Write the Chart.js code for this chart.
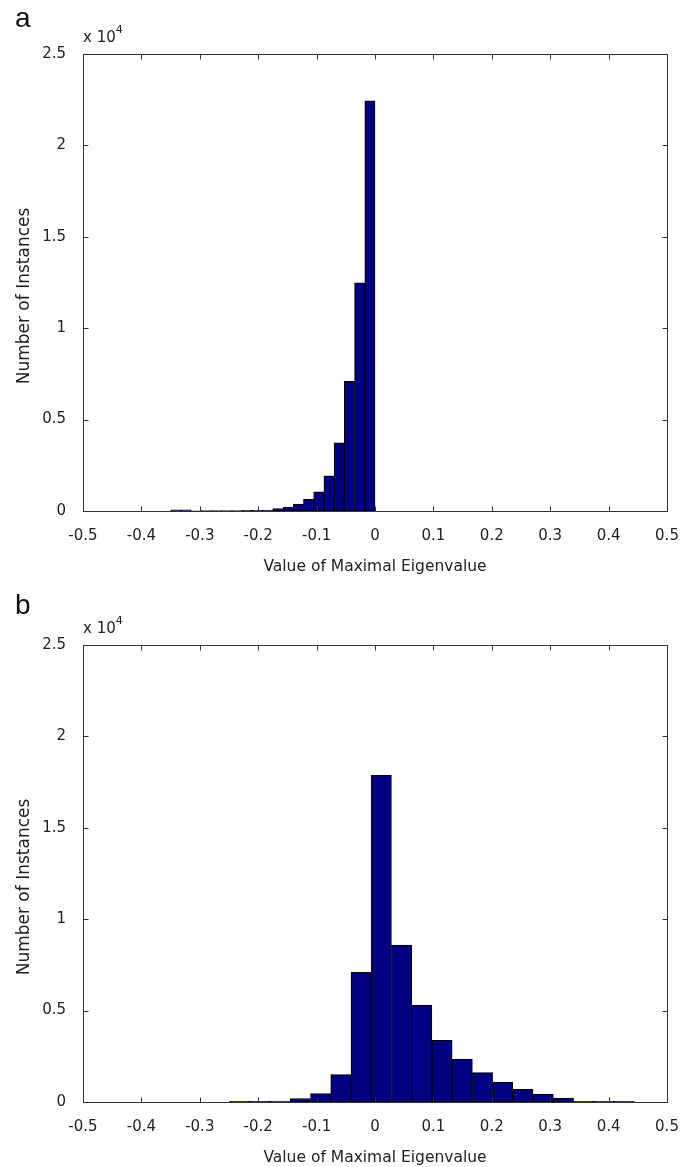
<!DOCTYPE html>
<html>
<head>
<meta charset="utf-8">
<script src="https://cdn.jsdelivr.net/npm/chart.js@4.4.0/dist/chart.umd.min.js"></script>
<style>
	html, body { margin: 0; padding: 0; background: #fff; overflow: hidden; }
	.panel { position: absolute; left: 0; width: 692px; height: 583px; }
	.letter { position: absolute; left: 15px; font: 28px 'Liberation Sans', Arial, sans-serif; line-height: 28px; color: #111; }
	.exponent { position: absolute; left: 83px; top: 25px; font: 15px 'DejaVu Sans', sans-serif; line-height: 15px; color: #222; }
	.exponent sup { font-size: 11px; position: relative; top: -3px; }
</style>
</head>
<body>
<div class="panel" style="top: 0px">
	<canvas id="hist_a"></canvas>
	<div class="letter" style="top: 4px">a</div>
	<div class="exponent">x 10<sup>4</sup></div>
</div>
<div class="panel" style="top: 591px">
	<canvas id="hist_b"></canvas>
	<div class="letter" style="top: 0px">b</div>
	<div class="exponent">x 10<sup>4</sup></div>
</div>
<script>
// bin centres (value of maximal eigenvalue) and counts per bin
const bins_a = [
	-0.34125, -0.32375, -0.30625, -0.28875, -0.27125, -0.25375, -0.23625,
	-0.21875, -0.20125, -0.18375, -0.16625, -0.14875, -0.13125, -0.11375,
	-0.09625, -0.07875, -0.06125, -0.04375, -0.02625, -0.00875,
]
const counts_a = [
	60, 60, 10, 20, 20, 20, 20, 30, 30, 50, 130, 220, 380, 640, 1050, 1930,
	3730, 7100, 12480, 22440,
]

const bins_b = [
	-0.2317, -0.1971, -0.1624, -0.1278, -0.0931, -0.0585, -0.0238, 0.0108,
	0.0455, 0.0801, 0.1148, 0.1494, 0.1841, 0.2187, 0.2534, 0.288, 0.3227,
	0.3573, 0.392, 0.4266,
]
const counts_b = [
	40, 40, 50, 190, 460, 1500, 7100, 17870, 8580, 5300, 3370, 2350, 1610,
	1090, 690, 440, 220, 40, 30, 30,
]

const x_ticks = [-0.5, -0.4, -0.3, -0.2, -0.1, 0, 0.1, 0.2, 0.3, 0.4, 0.5]
const y_ticks = [0, 5000, 10000, 15000, 20000, 25000]

Chart.defaults.font.family = "'DejaVu Sans', sans-serif"
Chart.defaults.font.size = 15
Chart.defaults.color = '#222'

// matlab style box with inward ticks on every side
const box_plugin = {
	id: 'box',
	afterDatasetsDraw(chart) {
		const { ctx, chartArea, scales } = chart
		const left = Math.round(chartArea.left) + 0.5
		const right = Math.round(chartArea.right) + 0.5
		const top = Math.round(chartArea.top) + 0.5
		const bottom = Math.round(chartArea.bottom) + 0.5
		const tick_len = 5
		ctx.save()
		ctx.strokeStyle = '#333'
		ctx.lineWidth = 1
		ctx.beginPath()
		ctx.rect(left, top, right - left, bottom - top)
		scales.x.ticks.forEach((t) => {
			const px = Math.round(scales.x.getPixelForValue(t.value)) + 0.5
			ctx.moveTo(px, bottom)
			ctx.lineTo(px, bottom - tick_len)
			ctx.moveTo(px, top)
			ctx.lineTo(px, top + tick_len)
		})
		scales.y.ticks.forEach((t) => {
			const py = Math.round(scales.y.getPixelForValue(t.value)) + 0.5
			ctx.moveTo(left, py)
			ctx.lineTo(left + tick_len, py)
			ctx.moveTo(right, py)
			ctx.lineTo(right - tick_len, py)
		})
		ctx.stroke()
		ctx.restore()
	},
}

function make_histogram(canvas_id, bins, counts) {
	return new Chart(document.getElementById(canvas_id), {
		type: 'bar',
		data: {
			datasets: [
				{
					data: bins.map((b, i) => ({ x: b, y: counts[i] })),
					backgroundColor: '#000080',
					borderColor: '#000',
					borderWidth: 1,
					borderSkipped: false,
					barPercentage: 1,
					categoryPercentage: 1,
				},
			],
		},
		options: {
			responsive: true,
			maintainAspectRatio: false,
			animation: false,
			layout: { padding: { top: 54, right: 25, left: 10, bottom: 7 } },
			plugins: { legend: { display: false }, tooltip: { enabled: false } },
			scales: {
				x: {
					type: 'linear',
					min: x_ticks[0],
					max: x_ticks[x_ticks.length - 1],
					offset: false,
					grid: { display: false, drawTicks: false },
					border: { display: false },
					afterBuildTicks: (scale) => {
						scale.ticks = x_ticks.map((v) => ({ value: v }))
					},
					ticks: {
						padding: 16,
						callback: (v) => String(parseFloat(v.toFixed(1))),
					},
					title: {
						display: true,
						text: 'Value of Maximal Eigenvalue',
						font: { size: 15.5 },
						padding: { top: 0, bottom: 0 },
					},
					afterFit: (scale) => {
						scale.height = 65
						// the end labels fit inside the layout padding already
						scale.paddingLeft = 0
						scale.paddingRight = 0
					},
				},
				y: {
					min: y_ticks[0],
					max: y_ticks[y_ticks.length - 1],
					grid: { display: false, drawTicks: false },
					border: { display: false },
					afterBuildTicks: (scale) => {
						scale.ticks = y_ticks.map((v) => ({ value: v }))
					},
					ticks: {
						padding: 17,
						callback: (v) => String(v / 10000),
					},
					title: {
						display: true,
						// trailing spaces nudge the label a little below centre, as in the original
						text: 'Number of Instances     ',
						font: { size: 17 },
						padding: { top: 4, bottom: 0 },
					},
					afterFit: (scale) => {
						scale.width = 73
					},
				},
			},
		},
		plugins: [box_plugin],
	})
}

make_histogram('hist_a', bins_a, counts_a)
make_histogram('hist_b', bins_b, counts_b)
</script>
</body>
</html>
